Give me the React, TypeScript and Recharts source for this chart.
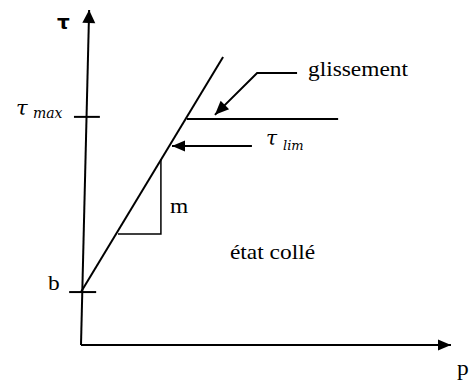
import React from "react";
import { LineChart, Line, XAxis, YAxis, ReferenceDot } from "recharts";

// Diagramme de frottement : critère τ = b + m·p, plateau de glissement, état collé.
// Coordonnées en unités du diagramme (p en abscisse, τ en ordonnée).

type Pt = { p: number; tau: number };

const B = 1.58;
const TAU_MAX = 6.81;
const TAU_SLIDE = 6.75;

const axisP: Pt[] = [{ p: 0, tau: 0 }, { p: 10, tau: 0 }];
const axisTau: Pt[] = [{ p: 0, tau: 0 }, { p: 0.22, tau: 10 }];
const tickB: Pt[] = [{ p: -0.32, tau: B }, { p: 0.41, tau: B }];
const tickTauMax: Pt[] = [{ p: -0.19, tau: TAU_MAX }, { p: 0.51, tau: TAU_MAX }];
const criterion: Pt[] = [{ p: 0, tau: B }, { p: 3.84, tau: 8.6 }];
const slidePlateau: Pt[] = [{ p: 2.86, tau: TAU_SLIDE }, { p: 6.95, tau: TAU_SLIDE }];
const slopeTriangle: Pt[] = [
  { p: 1.0, tau: 3.31 },
  { p: 2.16, tau: 3.31 },
  { p: 2.16, tau: 5.55 },
];
const slideArrow: Pt[] = [
  { p: 5.84, tau: 8.12 },
  { p: 4.76, tau: 8.12 },
  { p: 3.62, tau: 6.87 },
];
const limArrow: Pt[] = [{ p: 4.62, tau: 5.94 }, { p: 2.46, tau: 5.94 }];

// annotations : texte, indice éventuel, ancrage (début de ligne de base)
const labelText = ["τ", "τ", "τ", "glissement", "état collé", "m", "b", "p"];
const labelSub = ["", "max", "lim", "", "", "", "", ""];
const labelP = [-0.649, -1.757, 5.0, 6.135, 4.027, 2.405, -0.892, 10.16];
const labelTau = [9.433, 6.866, 5.97, 8.03, 2.567, 3.94, 1.642, -0.896];

const P_DOMAIN: [number, number] = [-2.189, 10.649];
const TAU_DOMAIN: [number, number] = [-1.045, 10.299];

const INK = "#000";
const SERIF = "Liberation Serif";
const MATH = "DejaVu Serif";
// l'original est légèrement étiré horizontalement
const STRETCH = 1.17;

function arrowDot(len: number, half: number) {
  return (props: any) => {
    const { cx, cy, index, points } = props;
    const key = `d-${index}-${cx}-${cy}`;
    if (!points || index !== points.length - 1 || index === 0) return <g key={key} />;
    const prev = points[index - 1];
    const dx = cx - prev.x;
    const dy = cy - prev.y;
    const d = Math.hypot(dx, dy) || 1;
    const ux = dx / d;
    const uy = dy / d;
    const bx = cx - ux * len;
    const by = cy - uy * len;
    const pts = [
      `${cx},${cy}`,
      `${bx - uy * half},${by + ux * half}`,
      `${bx + uy * half},${by - ux * half}`,
    ].join(" ");
    return <polygon key={key} points={pts} fill={INK} stroke="none" />;
  };
}

const noDot = () => null;

function Label(i: number) {
  return (props: any) => {
    const { cx, cy } = props;
    const t = labelText[i];
    const sub = labelSub[i];
    if (i === 0) {
      return (
        <text x={cx} y={cy} fontFamily="DejaVu Sans" fontWeight={700} fontSize={20} fill={INK}>
          {t}
        </text>
      );
    }
    if (sub) {
      const isMax = sub === "max";
      return (
        <g>
          <text x={cx} y={cy} fontFamily={MATH} fontStyle="italic" fontSize={isMax ? 21 : 20} fill={INK}>
            {t}
          </text>
          <text
            x={cx + 17}
            y={cy + (isMax ? 3 : 5)}
            fontFamily={MATH}
            fontStyle="italic"
            fontSize={isMax ? 14 : 13}
            fill={INK}
          >
            {sub}
          </text>
        </g>
      );
    }
    return (
      <g transform={`translate(${cx},${cy}) scale(${STRETCH},1)`}>
        <text x={0} y={0} fontFamily={SERIF} fontSize={20} fill={INK}>
          {t}
        </text>
      </g>
    );
  };
}

export default function App() {
  const line = (id: string, data: Pt[], width: number, dot: any) => (
    <Line
      key={id}
      data={data}
      dataKey="tau"
      type="linear"
      stroke={INK}
      strokeWidth={width}
      dot={dot}
      activeDot={false}
      isAnimationActive={false}
    />
  );

  return (
    <div style={{ position: "absolute", left: 0, top: 0, background: "#fff" }}>
      <LineChart width={475} height={380} margin={{ top: 0, right: 0, bottom: 0, left: 0 }}>
        <XAxis type="number" dataKey="p" domain={P_DOMAIN} allowDataOverflow hide />
        <YAxis type="number" dataKey="tau" domain={TAU_DOMAIN} allowDataOverflow hide />
        {line("axisP", axisP, 2, arrowDot(13, 5.5))}
        {line("axisTau", axisTau, 2, arrowDot(13, 6.5))}
        {line("tickB", tickB, 2, noDot)}
        {line("tickTauMax", tickTauMax, 2, noDot)}
        {line("criterion", criterion, 2, noDot)}
        {line("plateau", slidePlateau, 2, noDot)}
        {line("triangle", slopeTriangle, 1.5, noDot)}
        {line("slideArrow", slideArrow, 2, arrowDot(14, 6))}
        {line("limArrow", limArrow, 2, arrowDot(13, 5.5))}
        {labelText.map((_, i) => (
          <ReferenceDot
            key={`lbl-${i}`}
            x={labelP[i]}
            y={labelTau[i]}
            r={0}
            shape={Label(i)}
          />
        ))}
      </LineChart>
    </div>
  );
}
